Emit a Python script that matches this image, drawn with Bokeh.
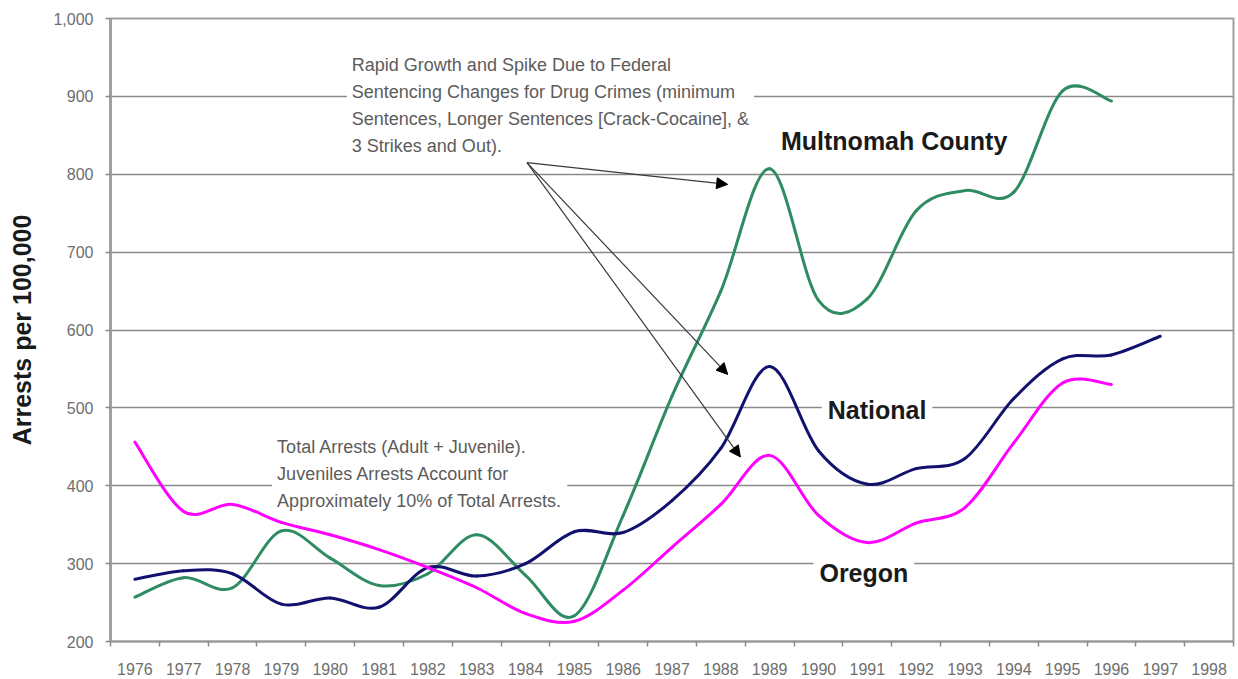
from bokeh.plotting import figure
from bokeh.models import (FixedTicker, NumeralTickFormatter, Label, Arrow, NormalHead,
                          Range1d, ColumnDataSource)
from bokeh.embed import file_html
from bokeh.resources import INLINE

# ---------------- data ----------------
years = list(range(1976, 1999))
tick_labels = [str(y) for y in years]

multnomah_years = list(range(1976, 1997))
multnomah = [257, 282, 269, 342, 307, 272, 287, 337, 285, 233, 362,
             515, 650, 807, 638, 640, 753, 779, 777, 907, 894]

national_years = list(range(1976, 1998))
national = [280, 291, 287, 248, 256, 244, 295, 284, 300, 341, 340,
            381, 448, 553, 445, 402, 422, 435, 512, 563, 568, 592]

oregon_years = list(range(1976, 1997))
oregon = [456, 367, 376, 353, 337, 318, 295, 269, 236, 226, 266,
          321, 376, 439, 362, 327, 352, 372, 455, 532, 530]

y_ticks = [200, 300, 400, 500, 600, 700, 800, 900, 1000]

FONT = "Liberation Sans"


def smooth_source(xs, ys):
    """Excel-style smoothed line: cubic Bezier control points from neighbours."""
    n = len(xs)
    d = dict(x0=[], y0=[], x1=[], y1=[], cx0=[], cy0=[], cx1=[], cy1=[])
    for i in range(n - 1):
        xp, yp = (xs[i - 1], ys[i - 1]) if i > 0 else (xs[i], ys[i])
        xn, yn = (xs[i + 2], ys[i + 2]) if i + 2 < n else (xs[i + 1], ys[i + 1])
        d["x0"].append(xs[i]); d["y0"].append(ys[i])
        d["x1"].append(xs[i + 1]); d["y1"].append(ys[i + 1])
        d["cx0"].append(xs[i] + (xs[i + 1] - xp) / 6.0)
        d["cy0"].append(ys[i] + (ys[i + 1] - yp) / 6.0)
        d["cx1"].append(xs[i + 1] - (xn - xs[i]) / 6.0)
        d["cy1"].append(ys[i + 1] - (yn - ys[i]) / 6.0)
    return ColumnDataSource(d)


p = figure(width=1236, height=679, output_backend="svg", toolbar_location=None,
           x_range=Range1d(years[0] - 0.5, years[-1] + 0.5),
           y_range=Range1d(y_ticks[0], y_ticks[-1]),
           min_border_left=110, min_border_right=3, min_border_top=18,
           min_border_bottom=38)

p.background_fill_color = "white"
p.border_fill_color = "white"
p.outline_line_color = "#a0a0a0"
p.outline_line_width = 2

# grid
p.xgrid.visible = False
p.ygrid.ticker = FixedTicker(ticks=y_ticks)
p.ygrid.grid_line_color = "#8a8a8a"
p.ygrid.grid_line_width = 1.6

# x axis (category style: labels at centers, tick marks at boundaries)
p.xaxis.ticker = FixedTicker(ticks=years,
                             minor_ticks=[y - 0.5 for y in years] + [years[-1] + 0.5])
p.xaxis.major_label_overrides = {y: lab for y, lab in zip(years, tick_labels)}
p.xaxis.major_tick_out = 0
p.xaxis.major_tick_in = 0
p.xaxis.minor_tick_out = 5
p.xaxis.minor_tick_in = 0
p.xaxis.minor_tick_line_color = "#8a8a8a"
p.xaxis.minor_tick_line_width = 1.5
p.xaxis.axis_line_color = "#9a9a9a"
p.xaxis.axis_line_width = 2
p.xaxis.major_label_standoff = 16
p.xaxis.major_label_text_font = FONT
p.xaxis.major_label_text_font_size = "16px"
p.xaxis.major_label_text_color = "#6e6e6e"

# y axis
p.yaxis.ticker = FixedTicker(ticks=y_ticks)
p.yaxis.formatter = NumeralTickFormatter(format="0,0")
p.yaxis.major_tick_out = 5
p.yaxis.major_tick_in = 0
p.yaxis.major_tick_line_color = "#8a8a8a"
p.yaxis.major_tick_line_width = 1.5
p.yaxis.minor_tick_line_color = None
p.yaxis.axis_line_color = "#a0a0a0"
p.yaxis.axis_line_width = 3
p.yaxis.major_label_standoff = 12
p.yaxis.major_label_text_font = FONT
p.yaxis.major_label_text_font_size = "16px"
p.yaxis.major_label_text_color = "#6e6e6e"
p.yaxis.axis_label = "Arrests per 100,000"
p.yaxis.axis_label_text_font = FONT
p.yaxis.axis_label_text_font_size = "25px"
p.yaxis.axis_label_text_font_style = "bold"
p.yaxis.axis_label_text_color = "#1a1a1a"
p.yaxis.axis_label_standoff = 14

# text boxes that interrupt grid lines (drawn under the data lines)
note_style = dict(text_font=FONT, text_font_size="18px", text_color="#5c5c5c",
                  text_align="left", text_baseline="top", text_line_height=1.35,
                  background_fill_color="white", padding=5, level="underlay")
p.add_layout(Label(x=1980.34, y=960,
                   text="Rapid Growth and Spike Due to  Federal\n"
                        "Sentencing Changes for Drug Crimes (minimum\n"
                        "Sentences, Longer Sentences [Crack-Cocaine], &\n"
                        "3 Strikes and Out).",
                   **note_style))
p.add_layout(Label(x=1978.81, y=469,
                   text="Total Arrests (Adult + Juvenile).\n"
                        "Juveniles Arrests Account for\n"
                        "Approximately 10% of Total Arrests.",
                   **note_style))

series_style = dict(text_font=FONT, text_font_size="25px", text_font_style="bold",
                    text_color="#1a1a1a", text_align="center", text_baseline="middle")
p.add_layout(Label(x=1991.2, y=497, text="National", background_fill_color="white",
                   padding=6, level="underlay", **series_style))
p.add_layout(Label(x=1990.93, y=288, text="Oregon", background_fill_color="white",
                   padding=6, level="underlay", **series_style))

# data lines
p.bezier(x0="x0", y0="y0", x1="x1", y1="y1", cx0="cx0", cy0="cy0", cx1="cx1", cy1="cy1",
         source=smooth_source(multnomah_years, multnomah),
         line_color="#2e8b62", line_width=3, line_cap="round")
p.bezier(x0="x0", y0="y0", x1="x1", y1="y1", cx0="cx0", cy0="cy0", cx1="cx1", cy1="cy1",
         source=smooth_source(national_years, national),
         line_color="#12126e", line_width=3, line_cap="round")
p.bezier(x0="x0", y0="y0", x1="x1", y1="y1", cx0="cx0", cy0="cy0", cx1="cx1", cy1="cy1",
         source=smooth_source(oregon_years, oregon),
         line_color="#ff00ff", line_width=3, line_cap="round")

p.add_layout(Label(x=1991.55, y=843, text="Multnomah County", **series_style))

# arrows from the top note
arrow_origin = (1984.03, 815)
arrow_targets = [(1988.14, 787), (1988.14, 543), (1988.4, 437)]
for tx, ty in arrow_targets:
    p.add_layout(Arrow(end=NormalHead(size=11, fill_color="black", line_color="black"),
                       x_start=arrow_origin[0], y_start=arrow_origin[1],
                       x_end=tx, y_end=ty, line_color="#3a3a3a", line_width=1.2))

open("out.html", "w").write(file_html(p, INLINE))
